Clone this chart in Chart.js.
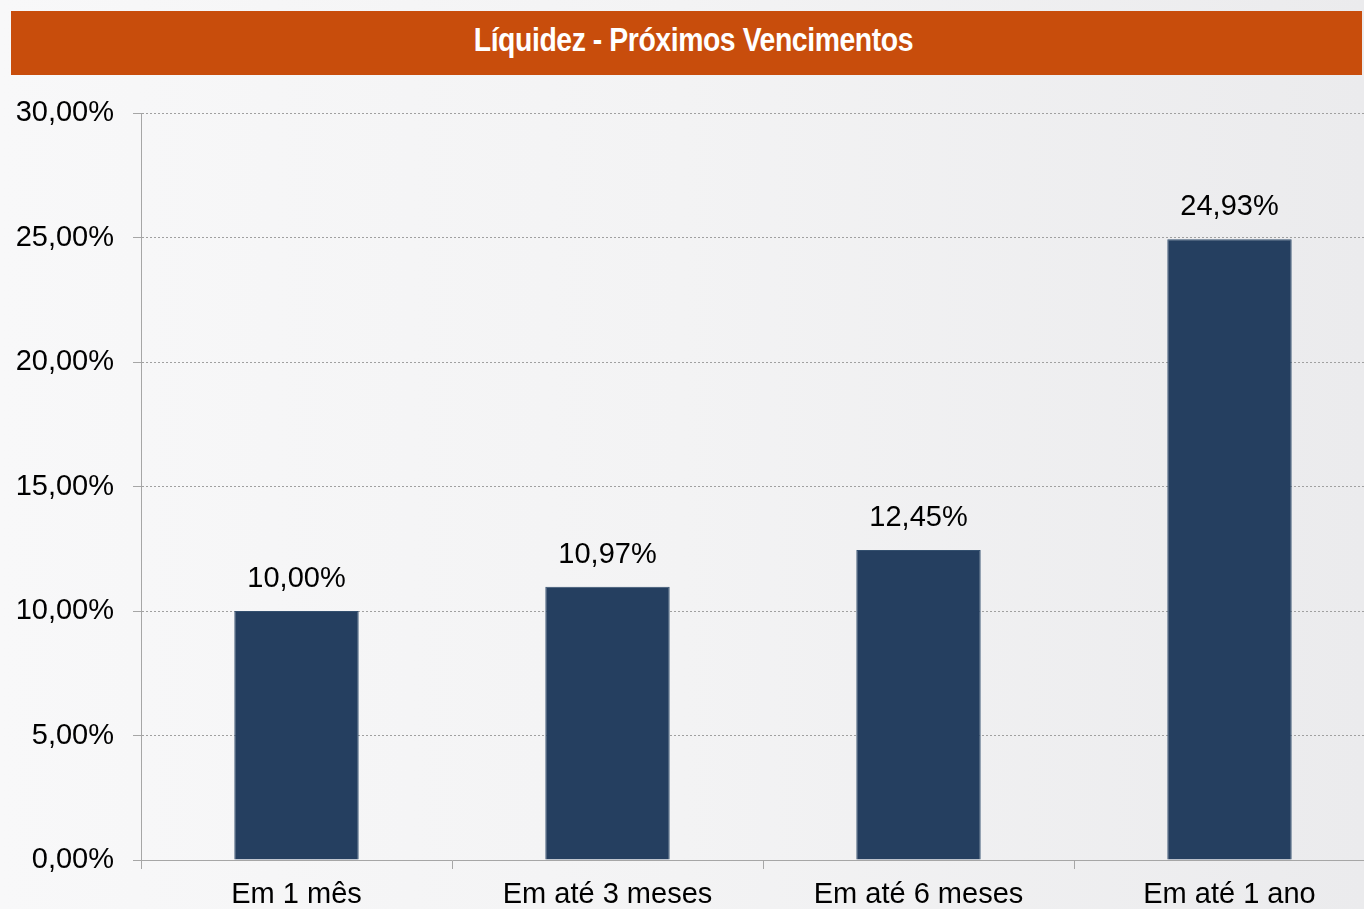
<!DOCTYPE html>
<html>
<head>
<meta charset="utf-8">
<script src="https://cdn.jsdelivr.net/npm/chart.js@4.4.1/dist/chart.umd.min.js"></script>
<style>
  html, body { margin: 0; padding: 0; width: 1364px; height: 909px; overflow: hidden; }
  body { background: linear-gradient(to right, #f8f8f9 0%, #f3f3f4 50%, #ebebed 100%); position: relative; }
  #titleBar {
    position: absolute; left: 11px; top: 11px; width: 1351px; height: 64px;
    background: #c84d0c; color: #fff; z-index: 2; text-align: center;
    font-family: "Liberation Sans", Arial, sans-serif;
    font-weight: bold; font-size: 33px; line-height: 58px;
  }
  #titleBar span { display: inline-block; transform: scaleX(0.86); margin-left: 14px; letter-spacing: -0.5px; }
  #wrap { position: absolute; left: 0; top: 0; width: 1400px; height: 909px; }
</style>
</head>
<body>
<div id="titleBar"><span>Líquidez - Próximos Vencimentos</span></div>
<div id="wrap"><canvas id="liqChart" width="1400" height="909"></canvas></div>
<script>
// ===== data =====
const categories = ["Em 1 mês", "Em até 3 meses", "Em até 6 meses", "Em até 1 ano"];
const liquidez = [10.00, 10.97, 12.45, 24.93];
const yTicks = [0, 5, 10, 15, 20, 25, 30];

const FONT = "'Liberation Sans', Arial, sans-serif";
const pct = v => v.toFixed(2).replace(".", ",") + "%";

// value labels above bars
const barLabels = {
    id: "barLabels",
    afterDatasetsDraw(chart) {
        const ctx = chart.ctx;
        const meta = chart.getDatasetMeta(0);
        ctx.save();
        ctx.font = "29px " + FONT;
        ctx.fillStyle = "#000";
        ctx.textAlign = "center";
        ctx.textBaseline = "middle";
        meta.data.forEach((bar, i) => {
            ctx.fillText(pct(liquidez[i]), bar.x, bar.y - 32);
        });
        ctx.restore();
    }
};

new Chart(document.getElementById("liqChart"), {
    type: "bar",
    data: {
        labels: categories,
        datasets: [{
            data: liquidez,
            backgroundColor: "#253f60",
            borderColor: "#34506f",
            borderWidth: 1,
            barPercentage: 0.4,
            categoryPercentage: 1
        }]
    },
    options: {
        responsive: false,
        animation: false,
        layout: { padding: { left: 0, top: 113, right: 15, bottom: 0 } },
        plugins: {
            legend: { display: false },
            tooltip: { enabled: false }
        },
        scales: {
            x: {
                grid: {
                    offset: true,
                    drawOnChartArea: false,
                    drawTicks: true,
                    tickLength: 9,
                    tickColor: "#a6a6a6"
                },
                border: { color: "#a6a6a6", width: 1 },
                ticks: {
                    color: "#000",
                    font: { family: FONT, size: 29 },
                    padding: 9,
                    maxRotation: 0
                },
                afterFit(scale) { scale.height = 49; }
            },
            y: {
                min: 0,
                max: 30,
                afterBuildTicks(scale) { scale.ticks = yTicks.map(v => ({ value: v })); },
                grid: {
                    color: "#a0a0a0",
                    lineWidth: 1,
                    tickLength: 8,
                    tickColor: "#a6a6a6"
                },
                border: { color: "#a6a6a6", width: 1, dash: [2, 2] },
                ticks: {
                    color: "#000",
                    font: { family: FONT, size: 29 },
                    padding: 19,
                    callback: v => pct(v)
                },
                afterFit(scale) { scale.width = 141; }
            }
        }
    },
    plugins: [barLabels]
});
</script>
</body>
</html>
